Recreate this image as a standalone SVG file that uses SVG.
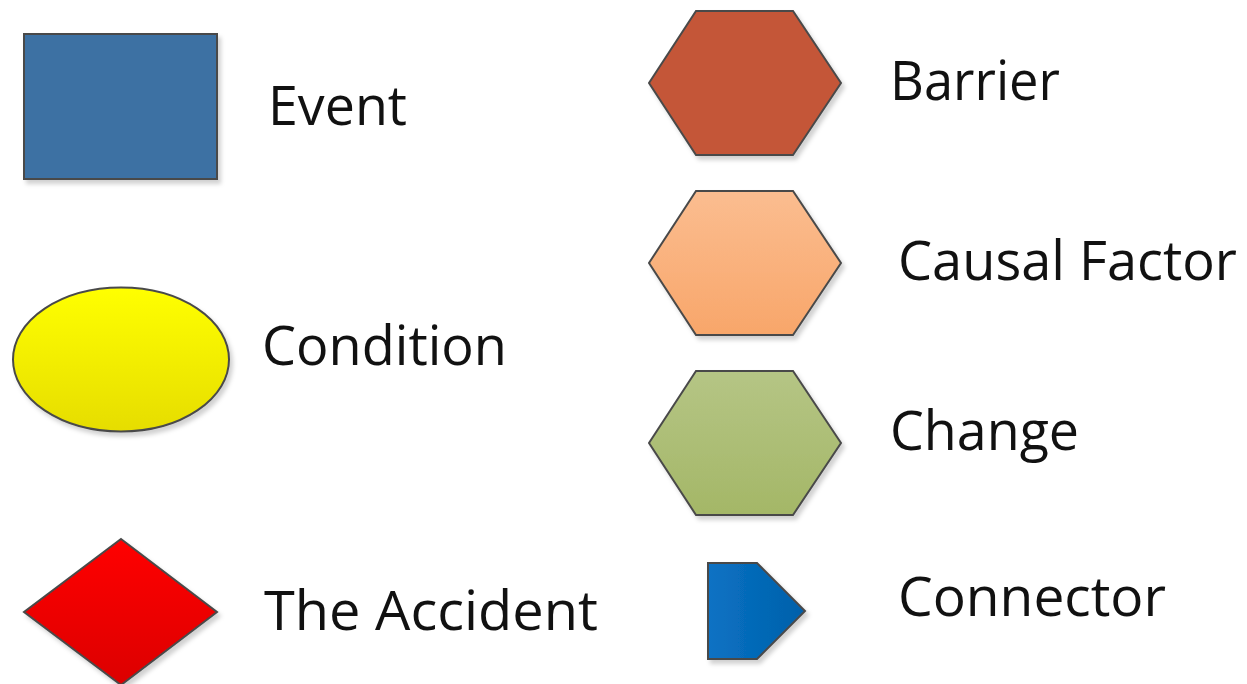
<svg xmlns="http://www.w3.org/2000/svg" width="1247" height="684" viewBox="0 0 1247 684">
<style>
.shape{stroke:#4a4a4a;stroke-width:2;filter:url(#sh)}
.lbl{font-family:"Open Sans","Liberation Sans",sans-serif;font-size:55px;fill:#111}
</style>
<defs>
<filter id="sh" x="-10%" y="-10%" width="130%" height="130%">
<feDropShadow dx="3" dy="4" stdDeviation="2" flood-color="#000" flood-opacity="0.18"/>
</filter>
<linearGradient id="gY" x1="0" y1="0" x2="0" y2="1"><stop offset="0" stop-color="#ffff00"/><stop offset="1" stop-color="#e6dd00"/></linearGradient>
<linearGradient id="gR" x1="0" y1="0" x2="0" y2="1"><stop offset="0" stop-color="#ff0000"/><stop offset="1" stop-color="#dc0000"/></linearGradient>
<linearGradient id="gC" x1="0" y1="0" x2="0" y2="1"><stop offset="0" stop-color="#fbbd90"/><stop offset="1" stop-color="#f8a66a"/></linearGradient>
<linearGradient id="gG" x1="0" y1="0" x2="0" y2="1"><stop offset="0" stop-color="#b5c585"/><stop offset="1" stop-color="#a4b767"/></linearGradient>
<linearGradient id="gB" x1="0" y1="0" x2="1" y2="0"><stop offset="0" stop-color="#0a72c4"/><stop offset="1" stop-color="#0060aa"/></linearGradient>
</defs>
<g id="event">
<rect class="shape" x="24" y="34" width="193" height="145" fill="#3e71a3"/>
<text class="lbl" x="268" y="125" textLength="139" lengthAdjust="spacingAndGlyphs">Event</text>
</g>
<g id="condition">
<ellipse class="shape" cx="121" cy="359.5" rx="108" ry="72" fill="url(#gY)" stroke-width="1.5"/>
<text class="lbl" x="262" y="365" textLength="245" lengthAdjust="spacingAndGlyphs">Condition</text>
</g>
<g id="accident">
<polygon class="shape" points="121,539 217,612 121,685 24,612" fill="url(#gR)" stroke-width="1.5"/>
<text class="lbl" x="264" y="630" textLength="334" lengthAdjust="spacingAndGlyphs">The Accident</text>
</g>
<g id="barrier">
<polygon class="shape" points="696,11 793,11 841,83 793,155 696,155 649,83" fill="#c45737"/>
<text class="lbl" x="890" y="100" textLength="170" lengthAdjust="spacingAndGlyphs">Barrier</text>
</g>
<g id="causal-factor">
<polygon class="shape" points="696,191 793,191 841,263 793,335 696,335 649,263" fill="url(#gC)" stroke-width="1.5"/>
<text class="lbl" x="898" y="280" textLength="339" lengthAdjust="spacingAndGlyphs">Causal Factor</text>
</g>
<g id="change">
<polygon class="shape" points="696,371 793,371 841,443 793,515 696,515 649,443" fill="url(#gG)" stroke-width="1.5"/>
<text class="lbl" x="890" y="450" textLength="189" lengthAdjust="spacingAndGlyphs">Change</text>
</g>
<g id="connector">
<polygon class="shape" points="708,563 757,563 805,611 757,659 708,659" fill="url(#gB)"/>
<text class="lbl" x="898" y="616" textLength="268" lengthAdjust="spacingAndGlyphs">Connector</text>
</g>
<g id="connectors"></g>
</svg>
